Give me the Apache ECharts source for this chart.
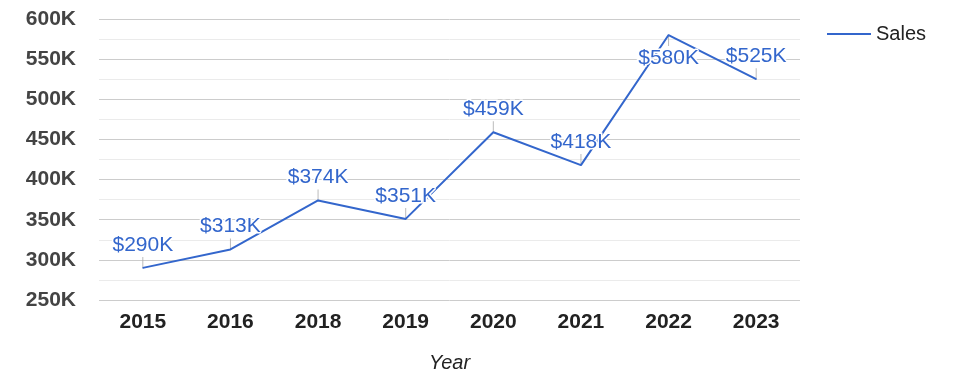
<!DOCTYPE html>
<html>
<head>
<meta charset="utf-8">
<script src="https://cdn.jsdelivr.net/npm/echarts@6/dist/echarts.min.js"></script>
<style>
  html, body { margin: 0; padding: 0; background: #fff; }
  #chart { width: 975px; height: 378px; }
</style>
</head>
<body>
<div id="chart"></div>
<script>
// data
var years = ['2015', '2016', '2018', '2019', '2020', '2021', '2022', '2023'];
var sales = [290000, 313000, 374000, 351000, 459000, 418000, 580000, 525000];
var seriesName = 'Sales';
var axisName = 'Year';

var yMin = 250000, yMax = 600000, yStep = 50000;
var blue = '#3366cc';
var font = 'Liberation Sans, Arial, sans-serif';

// labels too close to the top of the plot go under the point instead
function flipped(v) { return yMax - v < 40000; }

var stemData = sales.map(function (v) {
  return flipped(v) ? { value: v, symbolOffset: [0, '50%'] } : v;
});
var lineData = sales.map(function (v) {
  return flipped(v) ? { value: v, label: { position: 'bottom' } } : v;
});

var chart = echarts.init(document.getElementById('chart'));

var option = {
  backgroundColor: '#fff',
  animation: false,
  textStyle: { fontFamily: font },
  grid: { left: 99, right: 175, top: 19, bottom: 75 },
  legend: {
    data: [{ name: seriesName, icon: 'rect' }],
    left: 822,
    top: 19,
    itemWidth: 44,
    itemHeight: 2,
    textStyle: { fontSize: 20, color: '#222', fontFamily: font }
  },
  xAxis: {
    type: 'category',
    data: years,
    boundaryGap: true,
    axisLine: { show: false },
    axisTick: { show: false },
    axisLabel: { fontSize: 21, fontWeight: 'bold', color: '#222', margin: 12, fontFamily: font },
    name: axisName,
    nameLocation: 'middle',
    nameGap: 53,
    nameTextStyle: { fontSize: 20, fontStyle: 'italic', color: '#222', fontFamily: font }
  },
  yAxis: {
    type: 'value',
    min: yMin,
    max: yMax,
    interval: yStep,
    axisLine: { show: false },
    axisTick: { show: false },
    axisLabel: {
      fontSize: 21, fontWeight: 'bold', color: '#444', margin: 23, fontFamily: font,
      formatter: function (v) { return (v / 1000) + 'K'; }
    },
    splitLine: { lineStyle: { color: '#cccccc', width: 1 } },
    minorTick: { show: false, splitNumber: 2 },
    minorSplitLine: { show: true, lineStyle: { color: '#ebebeb', width: 1 } }
  },
  series: [
    {
      // little gray stems between point and value label
      name: 'stems',
      type: 'scatter',
      data: stemData,
      symbol: 'rect',
      symbolSize: [1, 11],
      symbolOffset: [0, '-50%'],
      itemStyle: { color: '#aaa' },
      silent: true,
      z: 1
    },
    {
      name: seriesName,
      type: 'line',
      data: lineData,
      showSymbol: true,
      symbol: 'circle',
      symbolSize: 1,
      lineStyle: { color: blue, width: 2 },
      itemStyle: { color: blue },
      z: 2,
      label: {
        show: true,
        position: 'top',
        distance: 12,
        fontSize: 21,
        color: blue,
        fontFamily: font,
        textBorderColor: '#fff',
        textBorderWidth: 3,
        formatter: function (p) { return '$' + (p.value / 1000) + 'K'; }
      },
      labelLayout: { hideOverlap: false }
    }
  ]
};

chart.setOption(option);
</script>
</body>
</html>
